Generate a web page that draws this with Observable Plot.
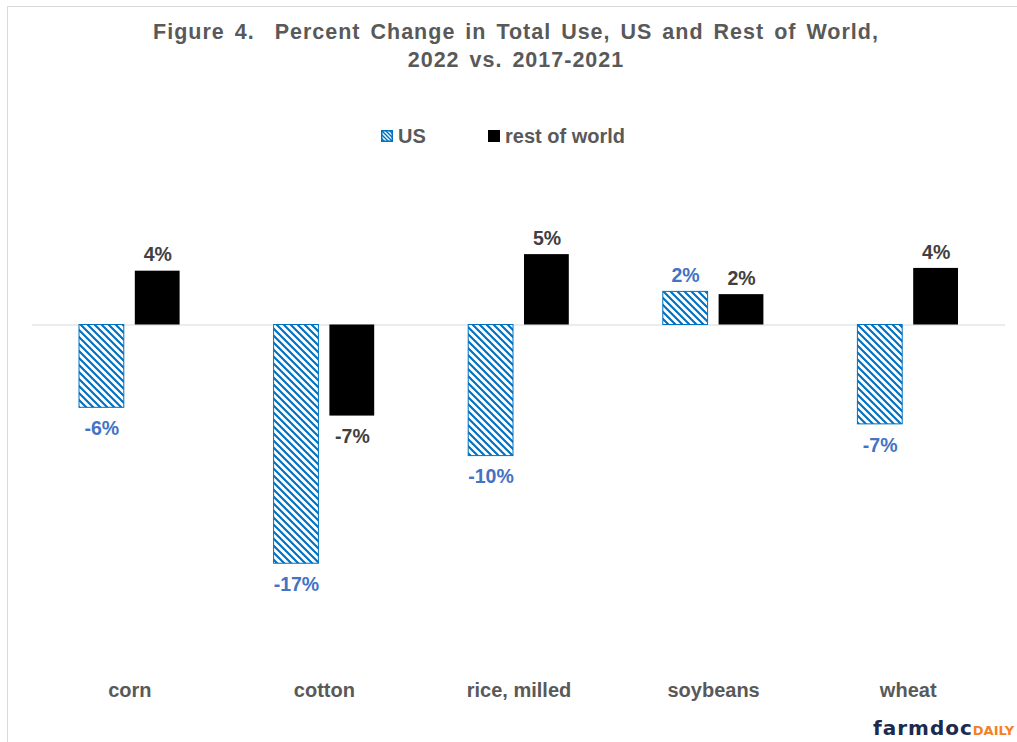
<!DOCTYPE html>
<html>
<head>
<meta charset="utf-8">
<script src="https://cdn.jsdelivr.net/npm/d3@7"></script>
<script src="https://cdn.jsdelivr.net/npm/@observablehq/plot@0.6"></script>
<style>
  html, body { margin: 0; padding: 0; background: #fff; overflow: hidden; }
  #chart { position: relative; width: 1017px; height: 742px; font-family: "Liberation Sans", Arial, sans-serif; }
  #frame { position: absolute; left: 7px; top: 6px; right: -2px; bottom: -2px; border-top: 1px solid #d9d9d9; border-left: 1px solid #d9d9d9; pointer-events: none; }
  #header { position: relative; height: 160px; }
  #title { position: absolute; left: 0; top: 18px; width: 1032px; text-align: center; font-weight: bold; font-size: 21.5px; line-height: 28px; color: #595959; letter-spacing: 1px; word-spacing: 3px; white-space: pre; }
  .key { position: absolute; top: 126px; font-size: 20px; line-height: 20px; font-weight: bold; color: #595959; white-space: nowrap; }
  .swatch { position: absolute; top: 130px; width: 12px; height: 12px; }
  #logo { position: absolute; left: 873px; top: 716px; white-space: nowrap; font-family: "DejaVu Sans", sans-serif; font-weight: bold; line-height: 24px; }
  #logo .farm { color: #1b2a4e; font-size: 20px; letter-spacing: 1px; }
  #logo .daily { color: #f58025; font-size: 13px; }
</style>
</head>
<body>
<div id="chart">
  <div id="frame"></div>
  <div id="header">
    <div id="title">Figure 4.  Percent Change in Total Use, US and Rest of World,
2022 vs. 2017-2021</div>
    <div id="legend"></div>
  </div>
  <div id="plot"></div>
  <div id="logo"><span class="farm">farmdoc</span><span class="daily">DAILY</span></div>
</div>
<script>
// Percent change in total use, 2022 vs. the 2017-2021 average
const categories = ["corn", "cotton", "rice, milled", "soybeans", "wheat"];
const seriesNames = ["US", "rest of world"];
const usChange = [-6.0, -17.3, -9.5, 2.4, -7.2];
const rowChange = [3.9, -6.6, 5.1, 2.2, 4.1];

const usRows = categories.map((c, i) => ({category: c, series: seriesNames[0], value: usChange[i]}));
const rowRows = categories.map((c, i) => ({category: c, series: seriesNames[1], value: rowChange[i]}));

// whole-percent labels with a plain hyphen for negatives
const fmt = d => d.value.toFixed(0) + "%";
const labelFont = {fontSize: 19.5, fontWeight: "bold"};

// each category band holds two side-by-side bars: US on the left, rest of world on the right
const outer = 47, inner = 102.8, shift = 28;

const svg = Plot.plot({
  width: 1017,
  height: 582,
  marginTop: 26.5,
  marginBottom: 72.5,
  marginLeft: 32,
  marginRight: 12,
  style: {fontFamily: "'Liberation Sans', Arial, sans-serif", background: "transparent", overflow: "visible"},
  x: {domain: categories, padding: 0, round: false, label: null},
  y: {domain: [-25, 10], axis: null},
  marks: [
    // zero baseline: one tick per category band, the bands abut into a single line
    Plot.tickY(categories, {x: d => d, y: () => 0, stroke: "#d9d9d9", strokeWidth: 1.2}),
    Plot.barY(usRows, {x: "category", y: "value", insetLeft: outer, insetRight: inner, fill: "url(#us-hatch)", stroke: "#0070c0", strokeWidth: 1}),
    Plot.barY(rowRows, {x: "category", y: "value", insetLeft: inner, insetRight: outer, fill: "black"}),
    Plot.text(usRows, {filter: d => d.value >= 0, x: "category", y: "value", text: fmt, dx: -shift, dy: -16, fill: "#4472c4", ...labelFont}),
    Plot.text(usRows, {filter: d => d.value < 0, x: "category", y: "value", text: fmt, dx: -shift, dy: 21, fill: "#4472c4", ...labelFont}),
    Plot.text(rowRows, {filter: d => d.value >= 0, x: "category", y: "value", text: fmt, dx: shift, dy: -16, fill: "#404040", ...labelFont}),
    Plot.text(rowRows, {filter: d => d.value < 0, x: "category", y: "value", text: fmt, dx: shift, dy: 21, fill: "#404040", ...labelFont}),
    Plot.axisX({anchor: "bottom", tickSize: 0, tickPadding: 13, fontSize: 20, fontWeight: "bold", color: "#595959", label: null})
  ]
});

// Diagonal hatch used for the US bars
const defs = d3.select(svg).insert("defs", ":first-child");
const pat = defs.append("pattern")
  .attr("id", "us-hatch")
  .attr("patternUnits", "userSpaceOnUse")
  .attr("width", 7)
  .attr("height", 7);
pat.append("rect").attr("width", 7).attr("height", 7).attr("fill", "#fff");
pat.append("path")
  .attr("d", "M-1,-1L8,8M-1,6L1,8M6,-1L8,1")
  .attr("stroke", "#0070c0")
  .attr("stroke-width", 2.1);

document.getElementById("plot").appendChild(svg);

// Legend
const legend = document.getElementById("legend");
const keys = [
  {name: seriesNames[0], sx: 381, tx: 398},
  {name: seriesNames[1], sx: 488, tx: 505}
];
keys.forEach((k, i) => {
  const sw = document.createElementNS("http://www.w3.org/2000/svg", "svg");
  sw.setAttribute("width", 12);
  sw.setAttribute("height", 12);
  sw.setAttribute("class", "swatch");
  sw.style.left = k.sx + "px";
  if (i === 0) {
    sw.innerHTML = '<defs><pattern id="key-hatch" patternUnits="userSpaceOnUse" width="4" height="4"><rect width="4" height="4" fill="#fff"/><path d="M-1,-1L5,5M-1,3L1,5M3,-1L5,1" stroke="#0070c0" stroke-width="1.4"/></pattern></defs>' +
      '<rect x="0.75" y="0.75" width="10.5" height="10.5" fill="url(#key-hatch)" stroke="#0070c0" stroke-width="1.5"/>';
  } else {
    sw.innerHTML = '<rect x="0" y="0" width="12" height="12" fill="black"/>';
  }
  legend.appendChild(sw);
  const t = document.createElement("div");
  t.className = "key";
  t.style.left = k.tx + "px";
  t.textContent = k.name;
  legend.appendChild(t);
});
</script>
</body>
</html>
